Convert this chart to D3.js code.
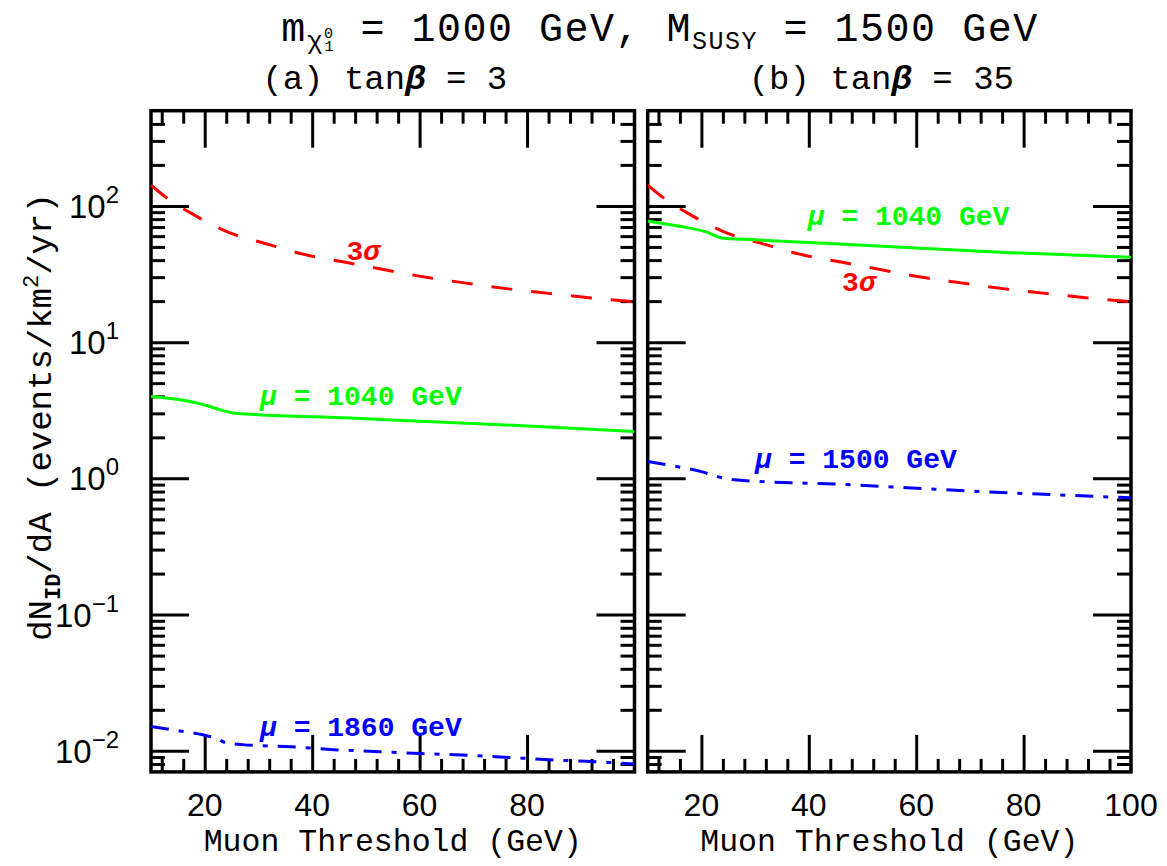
<!DOCTYPE html>
<html>
<head>
<meta charset="utf-8">
<script src="https://cdn.jsdelivr.net/npm/d3@7"></script>
<style>
  body { margin: 0; background: #fff; }
  text { font-family: "Liberation Mono", "DejaVu Sans Mono", monospace; fill: #000; }
  .num { font-family: "Liberation Sans", Arial, sans-serif; }
</style>
</head>
<body>
<div id="chart"></div>
<script>
// ---- data ----
// 3 sigma sensitivity (same in both panels)
var sigmaX = [10, 13, 18, 24, 32, 39, 46, 54, 61.5, 69, 76.5, 84, 91.5, 100];
var sigmaY = [142, 114, 86, 65, 52, 43.6, 38.7, 33.7, 29.8, 27.0, 24.6, 22.8, 21.2, 19.8];

// (a) tan beta = 3
var greenAX = [10, 15.4, 20.3, 22.8, 25.6, 47, 72, 100];
var greenAY = [3.99, 3.77, 3.43, 3.19, 3.01, 2.77, 2.51, 2.21];
var blueAX = [10, 13.7, 19.6, 22, 24.1, 27, 36, 44, 52.5, 60, 69, 77.5, 85.5, 95, 100];
var blueAY = [0.0151, 0.0143, 0.0131, 0.0124, 0.0114, 0.0111, 0.0107, 0.0102, 0.00985, 0.00955, 0.00927, 0.0089, 0.00855, 0.00822, 0.0080];

// (b) tan beta = 35
var greenBX = [10, 16.3, 20.7, 24.1, 28.1, 52.9, 77.7, 100];
var greenBY = [77.6, 70.5, 64.7, 57.9, 56.9, 50.8, 45.4, 42.0];
var blueBX = [10, 15, 20, 23, 25.5, 47, 72, 100];
var blueBY = [1.33, 1.23, 1.12, 1.03, 0.98, 0.90, 0.80, 0.72];

var xMajorTicks = [20, 40, 60, 80];
var yMajorTicks = [0.01, 0.1, 1, 10, 100];
var yTickExp = ["\u22122", "\u22121", "0", "1", "2"];

// ---- layout ----
var W = 1167, H = 866;
var plotTop = 110.7, plotBot = 771.9;
var panels = [
  { x0: 151, x1: 634.5, title: "(a)", tb: "3", xlabels: [20, 40, 60, 80] },
  { x0: 647.7, x1: 1131, title: "(b)", tb: "35", xlabels: [20, 40, 60, 80, 100] }
];

var svg = d3.select("#chart").append("svg")
  .attr("width", W).attr("height", H);

var y = d3.scaleLog().domain([0.007, 500]).range([plotBot, plotTop]);

// minor tick positions
var xMinor = d3.range(12, 100, 4).filter(function(v) { return v % 20 !== 0; });
var yMinor = [];
[-3, -2, -1, 0, 1, 2].forEach(function(k) {
  for (var m = 2; m <= 9; m++) {
    var v = m * Math.pow(10, k);
    if (v > 0.007 && v < 500) yMinor.push(v);
  }
});

function tickGroup(g, axis, values, size) {
  g.call(axis.tickValues(values).tickSize(size).tickFormat(""));
  g.select(".domain").remove();
  g.selectAll("line").attr("stroke", "#000").attr("stroke-width", 3);
}

panels.forEach(function(p, i) {
  var x = d3.scaleLinear().domain([10, 100]).range([p.x0, p.x1]);
  p.x = x;

  var clipId = "clip" + i;
  svg.append("clipPath").attr("id", clipId)
    .append("rect").attr("x", p.x0).attr("y", plotTop)
    .attr("width", p.x1 - p.x0).attr("height", plotBot - plotTop);

  // ticks on all four sides, pointing inwards
  var gL = svg.append("g").attr("transform", "translate(" + p.x0 + ",0)");
  tickGroup(gL.append("g"), d3.axisRight(y), yMajorTicks, 38);
  tickGroup(gL.append("g"), d3.axisRight(y), yMinor, 14);
  var gR = svg.append("g").attr("transform", "translate(" + p.x1 + ",0)");
  tickGroup(gR.append("g"), d3.axisLeft(y), yMajorTicks, 38);
  tickGroup(gR.append("g"), d3.axisLeft(y), yMinor, 14);
  var gB = svg.append("g").attr("transform", "translate(0," + plotBot + ")");
  tickGroup(gB.append("g"), d3.axisTop(x), xMajorTicks, 37);
  tickGroup(gB.append("g"), d3.axisTop(x), xMinor, 13);
  var gT = svg.append("g").attr("transform", "translate(0," + plotTop + ")");
  tickGroup(gT.append("g"), d3.axisBottom(x), xMajorTicks, 37);
  tickGroup(gT.append("g"), d3.axisBottom(x), xMinor, 13);

  // frame
  svg.append("rect")
    .attr("x", p.x0).attr("y", plotTop)
    .attr("width", p.x1 - p.x0).attr("height", plotBot - plotTop)
    .attr("fill", "none").attr("stroke", "#000").attr("stroke-width", 3.5);

  // x tick labels
  svg.selectAll(null).data(p.xlabels).enter().append("text")
    .attr("class", "num")
    .attr("x", function(d) { return x(d); })
    .attr("y", 816)
    .attr("text-anchor", "middle")
    .style("font-size", "32px")
    .text(function(d) { return d; });

  // x axis title
  svg.append("text")
    .attr("x", (p.x0 + p.x1) / 2).attr("y", 851)
    .attr("text-anchor", "middle")
    .style("font-size", "31.5px")
    .text("Muon Threshold (GeV)");

  // panel title
  var t = svg.append("text")
    .attr("x", (p.x0 + p.x1) / 2 - 8).attr("y", 89)
    .attr("text-anchor", "middle")
    .style("font-size", "34px");
  t.append("tspan").text(p.title + " tan");
  t.append("tspan").style("font-style", "italic").style("font-weight", "bold").text("\u03b2");
  t.append("tspan").text(" = " + p.tb);

  p.line = function(xs, ys, curve) {
    return d3.line()
      .x(function(d) { return x(d[0]); })
      .y(function(d) { return y(d[1]); })
      .curve(curve || d3.curveMonotoneX)(d3.zip(xs, ys));
  };
  p.clip = "url(#" + clipId + ")";
});

// y tick labels on left panel
var yl = svg.append("g");
yMajorTicks.forEach(function(v, i) {
  var t = yl.append("text")
    .attr("class", "num")
    .attr("x", 119).attr("y", y(v) + 12)
    .attr("text-anchor", "end")
    .style("font-size", "33px");
  t.append("tspan").text("10");
  t.append("tspan").attr("dy", -15).style("font-size", "24px").text(yTickExp[i]);
});

// curves
function drawCurve(p, xs, ys, color, dash, curve) {
  svg.append("path")
    .attr("d", p.line(xs, ys, curve))
    .attr("clip-path", p.clip)
    .attr("fill", "none")
    .attr("stroke", color)
    .attr("stroke-width", 3)
    .attr("stroke-dasharray", dash);
}
var pa = panels[0], pb = panels[1];
drawCurve(pa, sigmaX, sigmaY, "#ff0000", "21,19");
drawCurve(pa, greenAX, greenAY, "#00ff00", null);
drawCurve(pa, blueAX, blueAY, "#0000ff", "18,10,5,10");
drawCurve(pb, sigmaX, sigmaY, "#ff0000", "21,19");
drawCurve(pb, greenBX, greenBY, "#00ff00", null);
drawCurve(pb, blueBX, blueBY, "#0000ff", "18,10,5,10");

// curve labels
function curveLabel(p, gx, gv, color, parts) {
  var t = svg.append("text")
    .attr("x", p.x(gx)).attr("y", y(gv))
    .style("font-size", "28px").style("font-weight", "bold")
    .style("fill", color);
  parts.forEach(function(s) {
    t.append("tspan").style("font-style", s[1] ? "italic" : "normal").text(s[0]);
  });
}
curveLabel(pa, 46.4, 40.2, "#ff0000", [["3", false], ["\u03c3", true]]);
curveLabel(pb, 46.2, 23.9, "#ff0000", [["3", false], ["\u03c3", true]]);
curveLabel(pa, 30.3, 3.47, "#00ff00", [["\u03bc", true], [" = 1040 GeV", false]]);
curveLabel(pb, 39.8, 72.5, "#00ff00", [["\u03bc", true], [" = 1040 GeV", false]]);
curveLabel(pa, 30.3, 0.0129, "#0000ff", [["\u03bc", true], [" = 1860 GeV", false]]);
curveLabel(pb, 30.0, 1.2, "#0000ff", [["\u03bc", true], [" = 1500 GeV", false]]);

// y axis title
var yt = svg.append("text")
  .attr("transform", "translate(51,417) rotate(-90)")
  .attr("text-anchor", "middle")
  .style("font-size", "34px");
yt.append("tspan").text("dN");
yt.append("tspan").attr("dy", 9).style("font-size", "22px").style("font-weight", "bold").text("ID");
yt.append("tspan").attr("dy", -9).text("/dA (events/km");
yt.append("tspan").attr("dy", -13).style("font-size", "22px").text("2");
yt.append("tspan").attr("dy", 13).text("/yr)");

// main title
var mt = svg.append("text")
  .attr("x", 660).attr("y", 41)
  .attr("text-anchor", "middle")
  .style("font-size", "40px")
  .style("letter-spacing", "1.5px");
mt.append("tspan").text("m");
mt.append("tspan").attr("dy", 8).style("font-size", "26px").text("\u03c7");
mt.append("tspan").attr("dy", -11).style("font-size", "15px").text("0");
mt.append("tspan").attr("dy", 13).attr("dx", -10).style("font-size", "15px").text("1");
mt.append("tspan").attr("dy", -10).text(" = 1000 GeV, M");
mt.append("tspan").attr("dy", 8).style("font-size", "25px").text("SUSY");
mt.append("tspan").attr("dy", -8).text(" = 1500 GeV");
</script>
</body>
</html>
